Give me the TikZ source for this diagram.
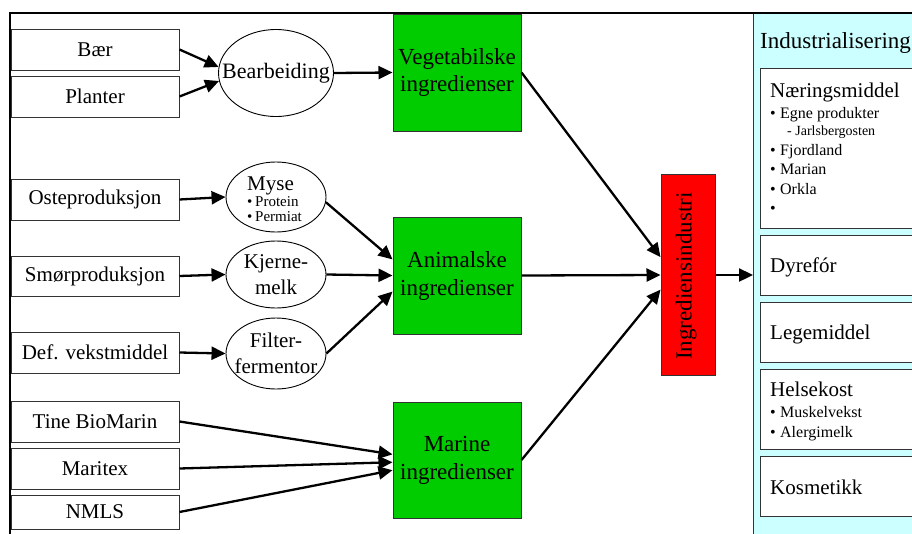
\documentclass[tikz,border=0pt]{standalone}
\usepackage{fontspec}
\setmainfont{Liberation Serif}
\usetikzlibrary{arrows.meta,shapes.geometric}

\definecolor{leafgreen}{HTML}{00CC00}
\definecolor{panelcyan}{HTML}{CCFFFF}
\definecolor{hotred}{HTML}{FF0000}
\definecolor{edgegray}{HTML}{333333}

\newcommand{\sizeto}[2]{\fontsize{#1}{#2}\selectfont}
\newcommand{\bul}{\makebox[10pt][l]{•}}

\begin{document}
\begin{tikzpicture}[x=1pt,y=-1pt,
  srcbox/.style={draw=edgegray, line width=1pt, fill=white, minimum width=168pt,
    minimum height=41pt, inner sep=0pt, font=\sizeto{21}{25}},
  procell/.style={draw=black, ellipse, line width=0.9pt, fill=white, inner sep=0pt},
  celltext/.style={inner sep=0pt, align=center, font=\sizeto{21}{26}},
  ingbox/.style={draw=edgegray, line width=1pt, fill=leafgreen, minimum width=128pt,
    minimum height=117pt, inner sep=0pt, align=center, font=\sizeto{23}{28}},
  inbox/.style={draw=edgegray, line width=1pt, fill=white, minimum width=170pt,
    anchor=north west, inner sep=0pt},
  lbl/.style={inner sep=0pt, anchor=base west},
  flow/.style={line width=2.3pt, -{Triangle[length=14pt,width=13pt]}},
]
\useasboundingbox (0,0) rectangle (912,533);

% right-hand panel
\node[draw=edgegray, line width=1.2pt, fill=panelcyan, minimum width=175pt,
  minimum height=540pt, anchor=north west, inner sep=0pt] (panel) at (753,13) {};

% outer frame
\draw[line width=1.5pt] (10,545) -- (10,13) -- (925,13);

% sources
\node[srcbox] (baer)  at (95,49.5)  {Bær};
\node[srcbox] (plant) at (95,96.5)  {Planter};
\node[srcbox] (oste)  at (95,199.5) {Osteproduksjon};
\node[srcbox, minimum height=40pt] (smor) at (95,276) {Smørproduksjon};
\node[srcbox] (defv)  at (95,352.5) {Def. vekstmiddel};
\node[srcbox] (tine)  at (95,421.5) {Tine BioMarin};
\node[srcbox] (marit) at (95,468.5) {Maritex};
\node[srcbox, minimum height=34pt] (nmls) at (95,512) {NMLS};

% processing steps
\node[procell, minimum width=115pt, minimum height=87pt] (bear) at (276,73) {};
\node[celltext, font=\sizeto{22}{26}] (beart) at (bear.center) {Bearbeiding};
\node[procell, minimum width=100pt, minimum height=70pt] (myse) at (276,197) {};
\node[lbl, font=\sizeto{21}{21}] (myset) at (247,190) {Myse};
\node[lbl, font=\sizeto{15}{15}] (myseA) at (247,206) {\makebox[8pt][l]{•}Protein};
\node[lbl, font=\sizeto{15}{15}] (myseB) at (247,221) {\makebox[8pt][l]{•}Permiat};
\node[procell, minimum width=100pt, minimum height=67pt] (kjern) at (276,274.5) {};
\node[celltext] (kjernt) at (kjern.center) {Kjerne-\\melk};
\node[procell, minimum width=100pt, minimum height=71pt] (filt) at (276,353.5) {};
\node[celltext] (filtt) at (filt.center) {Filter-\\fermentor};

% ingredient groups
\node[ingbox] (veg)  at (457,72.5)  {Vegetabilske\\ingredienser};
\node[ingbox] (anim) at (457,275.5) {Animalske\\ingredienser};
\node[ingbox, minimum height=116pt] (mar) at (457,460) {Marine\\ingredienser};

% ingredient industry
\node[draw=edgegray, line width=1pt, fill=hotred, minimum width=54pt, minimum height=201pt,
  inner sep=0pt] (ind) at (688,275) {};
\node[rotate=90, inner sep=0pt, font=\sizeto{23}{23}] (indt) at (686,276) {Ingrediensindustri};

% panel contents
\node[lbl, font=\sizeto{23}{23}] (indus) at (760,48) {Industrialisering};
\node[inbox, minimum height=160pt] (naer)  at (760,68)  {};
\node[inbox, minimum height=60pt]  (dyre)  at (760,235) {};
\node[inbox, minimum height=60pt]  (lege)  at (760,302) {};
\node[inbox, minimum height=80pt]  (helse) at (760,369) {};
\node[inbox, minimum height=60pt]  (kosm)  at (760,456) {};

\node[lbl, font=\sizeto{21}{21}] (naert) at (770,97)  {Næringsmiddel};
\node[lbl, font=\sizeto{16}{16}] (naer1) at (770,118) {\bul Egne produkter};
\node[lbl, font=\sizeto{14}{14}] (naer2) at (787,135) {- Jarlsbergosten};
\node[lbl, font=\sizeto{16}{16}] (naer3) at (770,155) {\bul Fjordland};
\node[lbl, font=\sizeto{16}{16}] (naer4) at (770,174) {\bul Marian};
\node[lbl, font=\sizeto{16}{16}] (naer5) at (770,194) {\bul Orkla};
\node[lbl, font=\sizeto{16}{16}] (naer6) at (770,213) {•};
\node[lbl, font=\sizeto{21}{21}] (dyret) at (770,272) {Dyrefór};
\node[lbl, font=\sizeto{21}{21}] (leget) at (770,339) {Legemiddel};
\node[lbl, font=\sizeto{21}{21}] (helset) at (770,396) {Helsekost};
\node[lbl, font=\sizeto{16}{16}] (helse1) at (770,417) {\bul Muskelvekst};
\node[lbl, font=\sizeto{16}{16}] (helse2) at (770,437) {\bul Alergimelk};
\node[lbl, font=\sizeto{21}{21}] (kosmt) at (770,494) {Kosmetikk};

% flows
\draw[flow] (baer.east)  -- (bear.174);
\draw[flow] (plant.east) -- (bear.188);
\draw[flow] (bear.east)  -- (veg.west);
\draw[flow] (oste.east)  -- (myse.west);
\draw[flow] (smor.east)  -- (kjern.west);
\draw[flow] (defv.east)  -- (filt.west);
\draw[flow] (myse.-6)    -- (anim.166);
\draw[flow] (kjern.east) -- (anim.west);
\draw[flow] (filt.east)  -- (anim.194);
\draw[flow] (tine.east)  -- (mar.175);
\draw[flow] (marit.east) -- (mar.182);
\draw[flow] (nmls.east)  -- (mar.189);
\draw[flow] (veg.east)   -- (ind.147);
\draw[flow] (anim.east)  -- (ind.west);
\draw[flow] (mar.east)   -- (ind.208);
\draw[flow] (ind.east)   -- (ind.east -| panel.west);
\end{tikzpicture}
\end{document}
